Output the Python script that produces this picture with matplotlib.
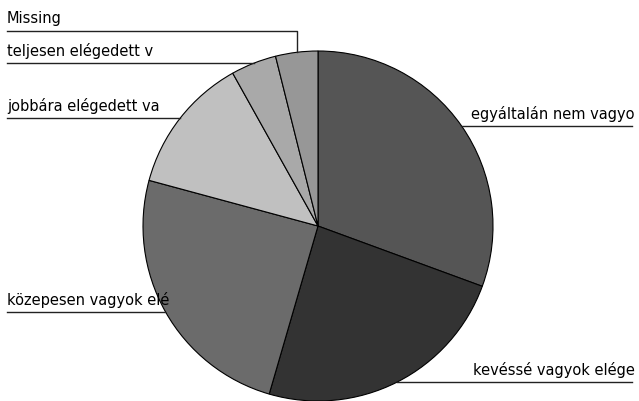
import numpy as np
import matplotlib
matplotlib.use("Agg")
import matplotlib.pyplot as plt

labels = ["egyáltalán nem vagyo", "kevéssé vagyok elége", "közepesen vagyok elé",
          "jobbára elégedett va", "teljesen elégedett v", "Missing"]
values = [30.6, 23.9, 24.7, 12.7, 4.2, 3.9]
colors = ["#555555", "#333333", "#6b6b6b", "#c0c0c0", "#a9a9a9", "#979797"]

W, H = 639, 402
fig = plt.figure(figsize=(W / 100, H / 100), dpi=100)
ax = fig.add_axes([0, 0, 1, 1])

cx, cy, r = 318, 227, 175
# y axis is inverted, so counterclock=True in data space renders clockwise
wedges, _ = ax.pie(values, colors=colors, startangle=-90, counterclock=True,
                   center=(cx, cy), radius=r, frame=True,
                   wedgeprops=dict(edgecolor="black", linewidth=0.8))
ax.set_xlim(0, W)
ax.set_ylim(H, 0)
ax.set_aspect("equal")
ax.axis("off")

font = dict(family="DejaVu Sans", fontsize=10.5, color="black")
lc = "#222222"
for i, w in enumerate(wedges):
    mid = np.deg2rad((w.theta1 + w.theta2) / 2)
    ex = cx + r * np.cos(mid)
    ey = cy + r * np.sin(mid)
    lab = labels[i]
    if lab == "Missing":
        ly = 32
        ax.plot([ex, ex, 7], [ey, ly, ly], color=lc, lw=1)
        ax.text(7, ly - 9.5, lab, ha="left", va="baseline", **font)
    elif ex < cx:
        ly = ey
        ax.plot([ex, 7], [ly, ly], color=lc, lw=1)
        ax.text(7, ly - 8, lab, ha="left", va="baseline", **font)
    else:
        ly = ey
        ax.plot([ex, 632], [ly, ly], color=lc, lw=1)
        ax.text(635, ly - 8, lab, ha="right", va="baseline", **font)

fig.savefig("out.png", dpi=100)
